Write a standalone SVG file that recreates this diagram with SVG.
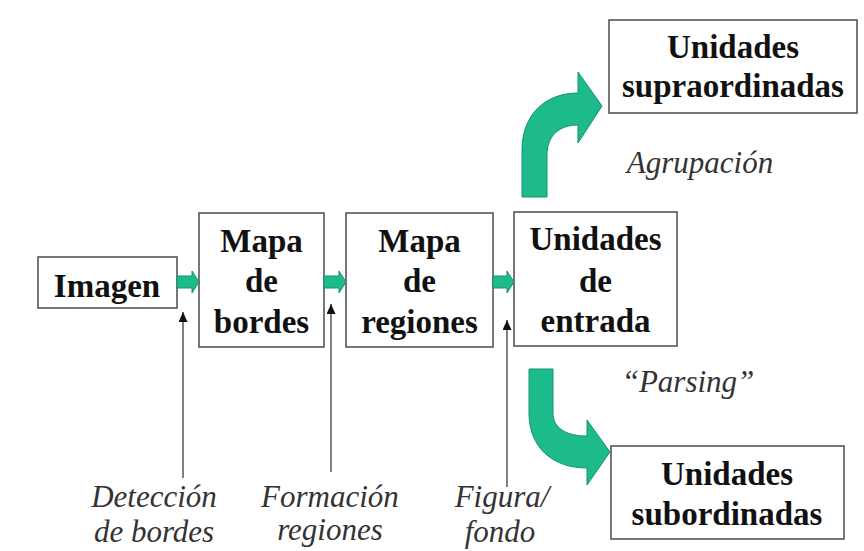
<svg xmlns="http://www.w3.org/2000/svg" width="864" height="551" viewBox="0 0 864 551" font-family="Liberation Serif, DejaVu Serif, serif">
<defs>
<style>
.box{fill:#fff;stroke:#555;stroke-width:1.6}
.t{font-weight:bold;font-size:33px;fill:#111;text-anchor:middle}
.it{font-style:italic;font-size:31px;fill:#333;text-anchor:middle}
.g{fill:#1dba8b;stroke:#15936d;stroke-width:1}
.ln{stroke:#555;stroke-width:1.5;fill:none}
</style>
<marker id="ah" markerWidth="10" markerHeight="9" refX="10" refY="4.5" orient="auto" markerUnits="userSpaceOnUse" viewBox="0 0 10 9">
<path d="M0,0 L10,4.5 L0,9 Z" fill="#111"/>
</marker>
</defs>
<rect width="864" height="551" fill="#fff"/>
<g id="imagen"><rect class="box" x="38" y="257" width="139" height="51"/><text class="t" x="107" y="297" font-family="Liberation Serif">Imagen</text></g>
<g id="mapa-bordes"><rect class="box" x="199" y="213" width="125" height="134"/><text class="t" x="261.5" y="252">Mapa</text><text class="t" x="261.5" y="292">de</text><text class="t" x="261.5" y="333">bordes</text></g>
<g id="mapa-regiones"><rect class="box" x="346" y="213" width="147" height="134"/><text class="t" x="419.5" y="252">Mapa</text><text class="t" x="419.5" y="292">de</text><text class="t" x="419.5" y="333">regiones</text></g>
<g id="unidades-entrada"><rect class="box" x="514" y="212" width="163" height="134"/><text class="t" x="595.5" y="250">Unidades</text><text class="t" x="595.5" y="292">de</text><text class="t" x="595.5" y="332">entrada</text></g>
<g id="unidades-supra"><rect class="box" x="609" y="20" width="248" height="93"/><text class="t" x="733" y="58">Unidades</text><text class="t" x="733" y="97">supraordinadas</text></g>
<g id="unidades-sub"><rect class="box" x="611" y="446" width="233" height="93"/><text class="t" x="727" y="485">Unidades</text><text class="t" x="727" y="525">subordinadas</text></g>
<g id="connectors">
<path class="g" d="M177,276 L192,276 L192,271 L199,282 L192,293 L192,288 L177,288 Z"/>
<path class="g" d="M324,276 L339,276 L339,271 L346,282 L339,293 L339,288 L324,288 Z"/>
<path class="g" d="M493,276 L507,276 L507,271 L514,282 L507,293 L507,288 L493,288 Z"/>
<path class="g" d="M522,197 L522,150 C522,115 545,93 578,93 L578,72 L602,106 L578,143 L578,125 C560,125 547,135 547,155 L547,197 Z"/>
<path class="g" d="M529,369 L553,369 L553,413 C553,428 566,436 587,436 L587,420 L610,452 L587,485 L587,468 C553,468 529,448 529,413 Z"/>
<line class="ln" x1="183" y1="478" x2="183" y2="312" marker-end="url(#ah)"/>
<line class="ln" x1="331" y1="472" x2="331" y2="304" marker-end="url(#ah)"/>
<line class="ln" x1="507" y1="487" x2="507" y2="320" marker-end="url(#ah)"/>
</g>
<g id="labels">
<text class="it" x="700" y="173">Agrupación</text>
<text class="it" x="688" y="392">“Parsing”</text>
<text class="it" x="154" y="507">Detección</text>
<text class="it" x="154" y="542">de bordes</text>
<text class="it" x="330" y="507">Formación</text>
<text class="it" x="330" y="540">regiones</text>
<text class="it" x="502" y="507">Figura/</text>
<text class="it" x="500" y="542">fondo</text>
</g>
</svg>
